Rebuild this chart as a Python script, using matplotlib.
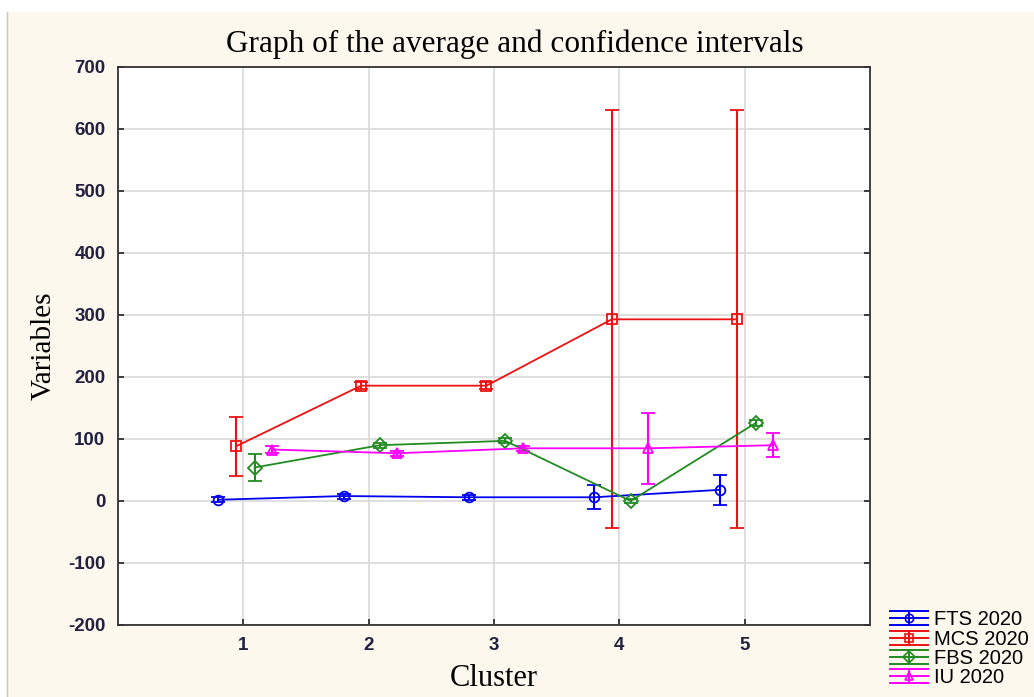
import numpy as np
import matplotlib.pyplot as plt
from matplotlib.lines import Line2D
from matplotlib.legend_handler import HandlerBase

## Data
clusters = np.array([1, 2, 3, 4, 5])
series_names = ['FTS 2020', 'MCS 2020', 'FBS 2020', 'IU 2020']

fts_mean = [2, 8, 6, 6, 18]
fts_err = [4, 4, 4, 19, 24]
mcs_mean = [88, 186, 186, 293, 293]
mcs_err = [47, 6, 6, 337, 337]
fbs_mean = [54, 90, 97, 0, 126]
fbs_err = [22, 4, 4, 3, 5]
iu_mean = [83, 77, 85, 85, 90]
iu_err = [5, 4, 4, 57, 19]

means = [fts_mean, mcs_mean, fbs_mean, iu_mean]
errs = [fts_err, mcs_err, fbs_err, iu_err]
colors = ['#0000ee', '#ee1111', '#228b22', '#ff00ff']
markers = ['o', 's', 'D', '^']
offsets = [-0.2, -0.06, 0.09, 0.23]

plt.rcParams['axes.unicode_minus'] = False


class ErrHandler(HandlerBase):
    # Statistica-like legend key: three long horizontal lines, short vertical bar, marker
    def create_artists(self, legend, orig_handle, xdescent, ydescent, width, height,
                       fontsize, trans):
        line = orig_handle[0]
        c = line.get_color()
        x0, x1 = -xdescent, -xdescent + width
        yc = -ydescent + height / 2
        d = height * 0.42
        xm = (x0 + x1) / 2
        arts = []
        for y in (yc - d, yc, yc + d):
            arts.append(Line2D([x0, x1], [y, y], color=c, lw=1.4, transform=trans))
        arts.append(Line2D([xm, xm], [yc - d, yc + d], color=c, lw=1.4, transform=trans))
        arts.append(Line2D([xm], [yc], marker=line.get_marker(), markersize=6,
                           markerfacecolor='none', markeredgecolor=c, markeredgewidth=1.2,
                           transform=trans))
        return arts


## Figure
fig = plt.figure(figsize=(10.34, 6.97), dpi=100, facecolor='#fcf8ee')
ax = fig.add_axes([0.1141, 0.1033, 0.7273, 0.8006])
ax.set_facecolor('white')

handles = []
for name, m, e, c, mk, off in zip(series_names, means, errs, colors, markers, offsets):
    h = ax.errorbar(clusters + off, m, yerr=e, color=c, marker=mk, markersize=7,
                    markerfacecolor='none', markeredgecolor=c, markeredgewidth=1.3,
                    linewidth=1.3, elinewidth=1.5, capsize=5, capthick=1.5, label=name)
    handles.append(h)

ax.set_xlim(0, 6)
ax.set_ylim(-200, 700)
ax.set_xticks([1, 2, 3, 4, 5])
ax.set_yticks(np.arange(-200, 701, 100))
ax.grid(True, color='#d9d9d9', linewidth=1.2)
ax.set_axisbelow(True)
for s in ax.spines.values():
    s.set_color('#333333')
    s.set_linewidth(1.3)
ax.tick_params(direction='in', length=4, width=1.2, right=True, labelsize=13.5,
               colors='#222222', pad=9)
for lbl in ax.get_xticklabels() + ax.get_yticklabels():
    lbl.set_fontfamily('Liberation Sans')
    lbl.set_fontweight('bold')
    lbl.set_color('#222240')

fig.text(0.498, 0.937, 'Graph of the average and confidence intervals',
         fontfamily='Liberation Serif', fontsize=22.5, ha='center', va='center')
ax.set_xlabel('Cluster', fontfamily='Liberation Serif', fontsize=22, labelpad=7)
ax.set_ylabel('Variables', fontfamily='Liberation Serif', fontsize=21, labelpad=8)

leg = fig.legend(handles, series_names, loc='lower left', bbox_to_anchor=(0.843, -0.012),
                 frameon=False, prop={'family': 'Liberation Sans', 'size': 14.5},
                 handlelength=1.9, handleheight=0.9, handletextpad=0.3, labelspacing=0.0,
                 handler_map={h: ErrHandler() for h in handles})

# white strip at the top and a thin grey edge on the left, as in the screenshot
fig.patches.append(plt.Rectangle((0, 0.983), 1, 0.017, transform=fig.transFigure,
                                 facecolor='white', edgecolor='none'))
fig.patches.append(plt.Rectangle((0, 0), 0.006, 0.983, transform=fig.transFigure,
                                 facecolor='white', edgecolor='none'))
fig.lines.append(Line2D([0.0068, 0.0068], [0, 0.983], transform=fig.transFigure,
                        color='#c8c8c8', lw=1))

fig.savefig('out.png', dpi=100, facecolor=fig.get_facecolor())
